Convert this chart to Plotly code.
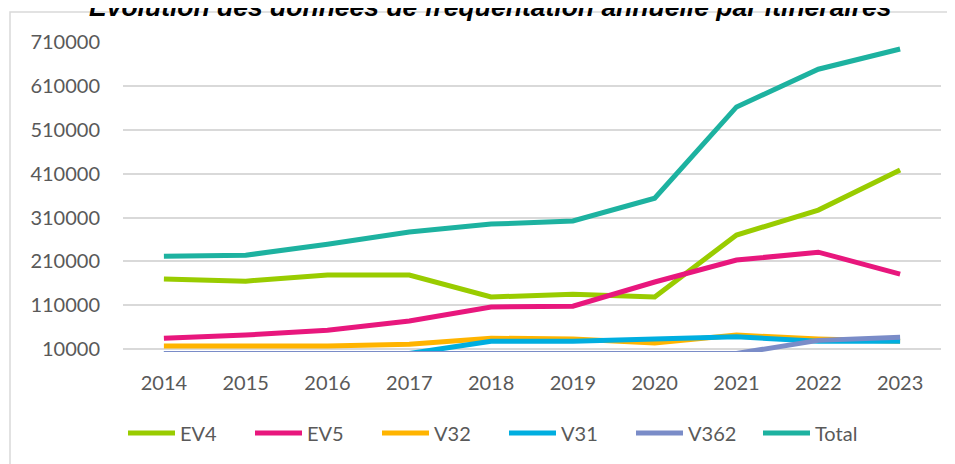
import plotly.graph_objects as go

# ── Data ─────────────────────────────────────────────────────────────────────
years = ["2014", "2015", "2016", "2017", "2018", "2019", "2020", "2021", "2022", "2023"]

ev4 = [170000, 165000, 179000, 179000, 129000, 135000, 129000, 270000, 327000, 418000]
ev5 = [35000, 42000, 53000, 74000, 106000, 108000, 163000, 213000, 231000, 181000]
v32 = [17000, 17000, 17000, 21000, 35000, 33000, 24000, 42000, 33000, 28000]
v31 = [0, 0, 0, 0, 28000, 28000, 33000, 38000, 28000, 28000]
v362 = [0, 0, 0, 0, 0, 0, 0, 0, 30000, 37000]
total = [222000, 224000, 249000, 277000, 295000, 302000, 354000, 562000, 648000, 694000]

series = [
    ("EV4", ev4, "#99CC00"),
    ("EV5", ev5, "#E8177D"),
    ("V32", v32, "#FFB400"),
    ("V31", v31, "#00AEE0"),
    ("V362", v362, "#7A8CC8"),
    ("Total", total, "#1DB2A0"),
]

FONT = "Lato, 'Open Sans', sans-serif"
GREY = "#595959"

# ── Geometry (page has an 8px body margin, so figure is shrunk to fit) ───────
OFF = 8
W, H = 955 - OFF, 464 - OFF
L, R, T, B = 123 - OFF, W - (941 - OFF), 42 - OFF, H - (352 - OFF)
pw, ph = W - L - R, H - T - B


def px_x(p):
    # page pixel -> paper x
    return (p - OFF - L) / pw


def px_y(p):
    # page pixel -> paper y
    return 1 - (p - OFF - T) / ph


fig = go.Figure()
for name, vals, color in series:
    fig.add_trace(go.Scatter(
        x=years, y=vals, name=name, mode="lines",
        line=dict(color=color, width=5),
    ))

fig.update_layout(
    width=W, height=H,
    margin=dict(l=L, r=R, t=T, b=B),
    paper_bgcolor="white", plot_bgcolor="white",
    font=dict(family=FONT, color=GREY, size=20),
    showlegend=True,
    legend=dict(
        orientation="h", x=px_x(123), xanchor="left",
        y=px_y(433), yanchor="middle",
        font=dict(size=20, color=GREY),
        entrywidth=65, entrywidthmode="pixels",
        itemwidth=47, traceorder="normal",
    ),
    annotations=[dict(
        text="<b><i>Evolution des données de fréquentation annuelle par itinéraires</i></b>",
        x=px_x(490), y=px_y(6.5), xref="paper", yref="paper",
        xanchor="center", yanchor="middle", showarrow=False,
        font=dict(family="'Liberation Sans', Arial, sans-serif", size=26.5, color="#000000"),
    )],
    shapes=[dict(
        type="rect", xref="paper", yref="paper",
        x0=px_x(10), x1=px_x(970), y0=px_y(12), y1=px_y(480),
        line=dict(color="#D9D9D9", width=1.5), layer="below",
    )],
)

fig.update_xaxes(
    type="category", range=[-0.5, 9.5],
    showgrid=False, showline=False, zeroline=False,
    ticks="outside", ticklen=13, tickcolor="rgba(0,0,0,0)",
    tickfont=dict(size=20, color=GREY),
)
fig.update_yaxes(
    range=[3500, 710000], tick0=10000, dtick=100000,
    tickformat="d",
    showgrid=True, gridcolor="#D9D9D9", gridwidth=1.5,
    zeroline=False, showline=False,
    ticks="outside", ticklen=18, tickcolor="rgba(0,0,0,0)",
    tickfont=dict(size=20, color=GREY),
)

fig.write_html("out.html")
